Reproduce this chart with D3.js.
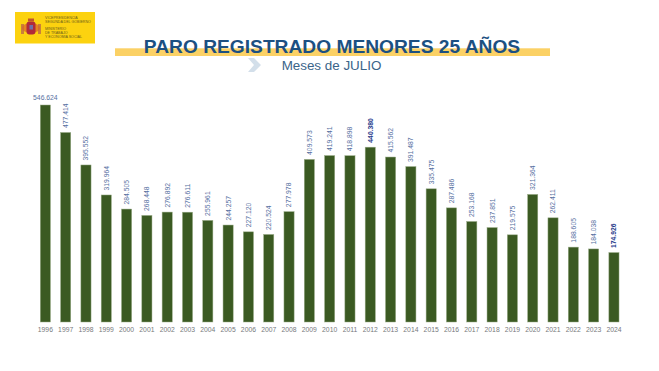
<!DOCTYPE html>
<html>
<head>
<meta charset="UTF-8">
<title>Paro registrado menores 25 años</title>
<script src="https://cdnjs.cloudflare.com/ajax/libs/d3/7.8.5/d3.min.js"></script>
<style>
  html, body { margin: 0; padding: 0; background: #fff; }
  svg { display: block; font-family: "Liberation Sans", Arial, sans-serif; }
  .axis path, .axis line { display: none; }
  .axis text { font-size: 6.8px; fill: #77797c; }
  .bar { fill: #3b5a22; stroke: #9aac88; stroke-width: 0.5px; }
  .value { font-size: 6.8px; fill: #56709f; }
  .value.hi { font-weight: bold; fill: #1f3a8a; }
</style>
</head>
<body>
<div id="chart"></div>
<script>
var years = ["1996","1997","1998","1999","2000","2001","2002","2003","2004","2005",
  "2006","2007","2008","2009","2010","2011","2012","2013","2014","2015",
  "2016","2017","2018","2019","2020","2021","2022","2023","2024"];
var paro = [546624,477414,395552,319964,284505,268448,276892,276611,255961,244257,
  227120,220524,277978,409573,419241,418898,440380,415562,391487,335475,
  287486,253168,237851,219575,321364,262411,188605,184038,174926];
var boldYears = ["2012","2024"];

var width = 659;
var height = 371;

var svg = d3.select("#chart").append("svg")
  .attr("width", width)
  .attr("height", height);

/* Logo */
var logo = svg.append("g").attr("transform", "translate(15,12)");
logo.append("rect").attr("width", 80).attr("height", 31.5).attr("fill", "#fcd20f");
// crest: pillars, shield, crown
logo.append("rect").attr("x", 6).attr("y", 12).attr("width", 3).attr("height", 10).attr("fill", "#c9803a");
logo.append("rect").attr("x", 23).attr("y", 12).attr("width", 3).attr("height", 10).attr("fill", "#c9803a");
logo.append("ellipse").attr("cx", 16).attr("cy", 16).attr("rx", 9).attr("ry", 5).attr("fill", "#d9622b").attr("opacity", 0.7);
logo.append("rect").attr("x", 11.5).attr("y", 9.5).attr("width", 9).attr("height", 13).attr("rx", 3).attr("fill", "#b02a3a");
logo.append("rect").attr("x", 14.5).attr("y", 13).attr("width", 3.5).attr("height", 4.5).attr("fill", "#6f6fa8");
logo.append("rect").attr("x", 13).attr("y", 6.5).attr("width", 6).attr("height", 3).attr("fill", "#c1552b");
var logoLines = [
  ["VICEPRESIDENCIA", 6.5], ["SEGUNDA DEL GOBIERNO", 10.5],
  ["MINISTERIO", 18], ["DE TRABAJO", 22], ["Y ECONOMÍA SOCIAL", 26]
];
logo.selectAll("text").data(logoLines).enter().append("text")
  .attr("x", 30)
  .attr("y", function(d) { return d[1]; })
  .attr("font-size", 3.6)
  .attr("fill", "#6b5a1c")
  .text(function(d) { return d[0]; });

/* Title */
svg.append("rect").attr("x", 115).attr("y", 48.3).attr("width", 435).attr("height", 7.7).attr("fill", "#fbd165");
svg.append("text")
  .attr("x", 332).attr("y", 53)
  .attr("text-anchor", "middle")
  .attr("font-size", 19.2)
  .attr("font-weight", "bold")
  .attr("fill", "#1c5082")
  .text("PARO REGISTRADO MENORES 25 AÑOS");
svg.append("path")
  .attr("d", "M248,58 L254,58 L261,65 L254,72 L248,72 L254,65 Z")
  .attr("fill", "#d3dfea");
svg.append("text")
  .attr("x", 331.5).attr("y", 70)
  .attr("text-anchor", "middle")
  .attr("font-size", 13.4)
  .attr("fill", "#3a6489")
  .text("Meses de JULIO");

/* Scales */
var x = d3.scaleBand()
  .domain(years)
  .range([35.2, 624.1])
  .paddingInner(0.5)
  .paddingOuter(0.25);

var y = d3.scaleLinear()
  .domain([0, 546624])
  .range([322, 105]);

/* Bars */
svg.selectAll(".bar")
  .data(paro).enter()
  .append("rect")
  .attr("class", "bar")
  .attr("x", function(d, i) { return x(years[i]); })
  .attr("y", function(d) { return y(d); })
  .attr("width", x.bandwidth())
  .attr("height", function(d) { return y(0) - y(d); });

/* Value labels */
var fmt = function(v) { return d3.format(",")(v).replace(",", "."); };
svg.selectAll(".value")
  .data(paro).enter()
  .append("text")
  .attr("class", function(d, i) { return boldYears.indexOf(years[i]) >= 0 ? "value hi" : "value"; })
  .attr("transform", function(d, i) {
    var cx = x(years[i]) + x.bandwidth() / 2;
    if (i == 0) return "translate(" + cx + "," + (y(d) - 5) + ")";
    return "translate(" + (cx + 2.4) + "," + (y(d) - 4.5) + ") rotate(-90)";
  })
  .attr("text-anchor", function(d, i) { return i == 0 ? "middle" : "start"; })
  .text(fmt);

/* Axis */
svg.append("g")
  .attr("class", "axis")
  .attr("transform", "translate(0,322)")
  .call(d3.axisBottom(x).tickSize(0).tickPadding(5));
</script>
</body>
</html>
